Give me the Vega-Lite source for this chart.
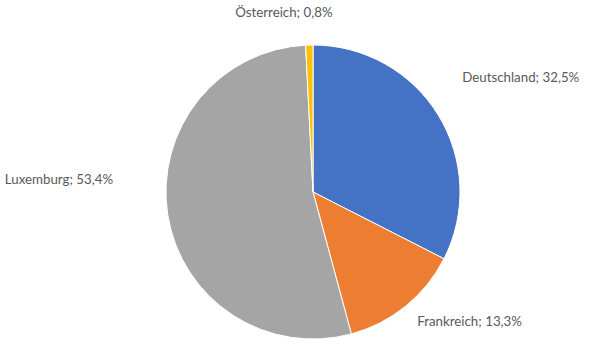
{
  "$schema": "https://vega.github.io/schema/vega-lite/v6.json",
  "width": 574,
  "height": 326,
  "padding": {"left": 26, "top": 29, "right": 0, "bottom": 0},
  "autosize": {"type": "none"},
  "background": "white",
  "config": {"view": {"stroke": null}, "text": {"font": "Lato", "fontSize": 13.3, "fill": "#595959"}},
  "data": {
    "values": [
      {"land": "Deutschland", "anteil": 32.5, "ord": 1, "label": "Deutschland; 32,5%"},
      {"land": "Frankreich", "anteil": 13.3, "ord": 2, "label": "Frankreich; 13,3%"},
      {"land": "Luxemburg", "anteil": 53.4, "ord": 3, "label": "Luxemburg; 53,4%"},
      {"land": "Österreich", "anteil": 0.8, "ord": 4, "label": "Österreich; 0,8%"}
    ]
  },
  "encoding": {
    "theta": {"field": "anteil", "type": "quantitative", "stack": true},
    "order": {"field": "ord", "type": "quantitative"}
  },
  "layer": [
    {
      "mark": {"type": "arc", "outerRadius": 147, "stroke": "white", "strokeWidth": 1},
      "encoding": {
        "color": {
          "field": "land", "type": "nominal", "legend": null,
          "scale": {"domain": ["Deutschland", "Frankreich", "Luxemburg", "Österreich"], "range": ["#4472C4", "#ED7D31", "#A5A5A5", "#FFC000"]}
        }
      }
    },
    {
      "mark": {"type": "text", "radius": 175, "align": "left", "baseline": "middle", "dx": 0, "dy": -23},
      "encoding": {"text": {"condition": {"test": "datum.land === 'Deutschland'", "field": "label"}, "value": ""}}
    },
    {
      "mark": {"type": "text", "radius": 175, "align": "left", "baseline": "middle", "dx": -6, "dy": -6},
      "encoding": {"text": {"condition": {"test": "datum.land === 'Frankreich'", "field": "label"}, "value": ""}}
    },
    {
      "mark": {"type": "text", "radius": 175, "align": "right", "baseline": "middle", "dx": -27, "dy": -39},
      "encoding": {"text": {"condition": {"test": "datum.land === 'Luxemburg'", "field": "label"}, "value": ""}}
    },
    {
      "mark": {"type": "text", "radius": 175, "align": "right", "baseline": "middle", "dx": 24, "dy": -4},
      "encoding": {"text": {"condition": {"test": "datum.land === 'Österreich'", "field": "label"}, "value": ""}}
    }
  ]
}
